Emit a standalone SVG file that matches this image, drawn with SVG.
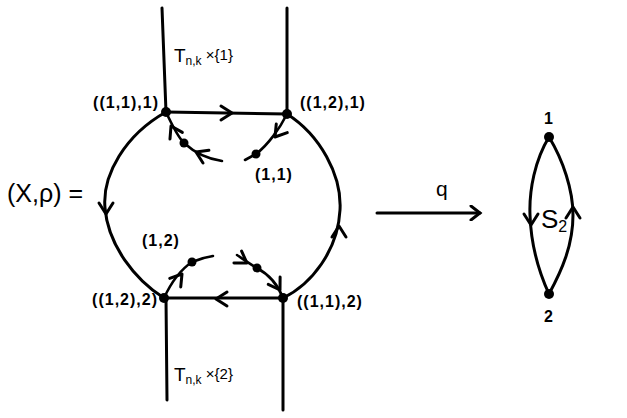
<svg xmlns="http://www.w3.org/2000/svg" xmlns:xlink="http://www.w3.org/1999/xlink" width="627" height="418" viewBox="0 0 627 418">
<style>
.ln{fill:none;stroke:#000;stroke-width:3;stroke-linecap:round;stroke-linejoin:round}
.br{fill:none;stroke:#000;stroke-width:2.6;stroke-linecap:round}
.ah{fill:none;stroke:#000;stroke-width:3;stroke-linecap:round;stroke-linejoin:round}
.dot{fill:#000}
.t{font-family:"Liberation Sans",Arial,sans-serif;fill:#000}
.lb{font-size:16px;font-weight:bold;letter-spacing:1px}
</style>
<defs>
<path id="ah" class="ah" d="M-11,-7 L0,0 L-11,7"/>
<marker id="mq" markerWidth="16" markerHeight="16" refX="11" refY="8" orient="auto" markerUnits="userSpaceOnUse">
<path d="M2,1 L11,8 L2,15" fill="none" stroke="#000" stroke-width="3" stroke-linecap="round"/>
</marker>
</defs>
<rect width="627" height="418" fill="#fff"/>
<g id="connectors">
<path class="ln" d="M162,8 L166,112"/>
<path class="ln" d="M287,8 L287,114"/>
<path class="ln" d="M166,298 L167,400"/>
<path class="ln" d="M283,298 L283,410"/>
<path class="ln" d="M166,112 L287,114"/>
<path class="ln" d="M283,298 L164,298"/>
<path class="ln" d="M166,112 C125,135 102,175 105,208 C108,245 135,280 164,298"/>
<path class="ln" d="M287,114 C320,135 342,175 340,210 C338,250 312,284 283,298"/>
<path class="br" d="M166,112 C172,125 178,137 184,143 C195,153 208,159 222,161"/>
<path class="br" d="M287,114 C280,128 268,145 256,154 L245,160"/>
<path class="br" d="M164,298 C170,285 180,270 192,262 C199,259 206,257 213,256"/>
<path class="br" d="M283,298 C278,285 268,274 257,268 C250,264 243,259 237,255"/>
<use xlink:href="#ah" transform="translate(232,113) rotate(0)"/>
<use xlink:href="#ah" transform="translate(216,299) rotate(180)"/>
<use xlink:href="#ah" transform="translate(106,214) rotate(90)"/>
<use xlink:href="#ah" transform="translate(339,226) rotate(-90)"/>
<use xlink:href="#ah" transform="translate(171,126) rotate(-118)"/>
<use xlink:href="#ah" transform="translate(196,152) rotate(-155)"/>
<use xlink:href="#ah" transform="translate(275,137) rotate(128)"/>
<use xlink:href="#ah" transform="translate(182,274) rotate(-52)"/>
<use xlink:href="#ah" transform="translate(247,263) rotate(33)"/>
<use xlink:href="#ah" transform="translate(280,290) rotate(58)"/>
<path class="ln" d="M377,213 L480,213" marker-end="url(#mq)"/>
<path class="ln" d="M549,137 C535,160 529,190 530,215 C531,245 538,270 549,294"/>
<path class="ln" d="M549,137 C563,160 573,190 573,215 C573,245 562,270 549,294"/>
<use xlink:href="#ah" transform="translate(531,225) rotate(90)"/>
<use xlink:href="#ah" transform="translate(573,207) rotate(-90)"/>
</g>
<g id="node-11-1"><circle class="dot" cx="166" cy="112" r="5"/><text class="t lb" x="159" y="108" text-anchor="end">((1,1),1)</text></g>
<g id="node-12-1"><circle class="dot" cx="287" cy="114" r="5"/><text class="t lb" x="300" y="108">((1,2),1)</text></g>
<g id="node-12-2"><circle class="dot" cx="164" cy="298" r="5"/><text class="t lb" x="158" y="305" text-anchor="end">((1,2),2)</text></g>
<g id="node-11-2"><circle class="dot" cx="283" cy="298" r="5"/><text class="t lb" x="297" y="307">((1,1),2)</text></g>
<g id="node-a"><circle class="dot" cx="184" cy="143" r="4.5"/></g>
<g id="node-b"><circle class="dot" cx="256" cy="154" r="4.5"/><text class="t lb" x="255" y="180" font-size="17">(1,1)</text></g>
<g id="node-c"><circle class="dot" cx="192" cy="262" r="4.5"/><text class="t lb" x="142" y="246" font-size="17">(1,2)</text></g>
<g id="node-d"><circle class="dot" cx="257" cy="268" r="4.5"/></g>
<g id="label-top"><text class="t" x="174" y="62" font-size="19">T<tspan font-size="12" dy="3">n,k</tspan><tspan dy="-5" font-size="15"> ×{1}</tspan></text></g>
<g id="label-bottom"><text class="t" x="174" y="381" font-size="19">T<tspan font-size="12" dy="3">n,k</tspan><tspan dy="-5" font-size="15"> ×{2}</tspan></text></g>
<g id="label-X"><text class="t" x="7" y="202" font-size="25">(X,ρ) =</text></g>
<g id="label-q"><text class="t" x="436" y="196" font-size="21">q</text></g>
<g id="s2-1"><circle class="dot" cx="549" cy="137" r="5"/><text class="t lb" x="549" y="124" text-anchor="middle" font-size="18">1</text></g>
<g id="s2-2"><circle class="dot" cx="549" cy="294" r="5"/><text class="t lb" x="549" y="322" text-anchor="middle" font-size="18">2</text></g>
<g id="s2-label"><text class="t" x="541" y="228" font-size="26">S<tspan font-size="16" dy="4">2</tspan></text></g>
</svg>
